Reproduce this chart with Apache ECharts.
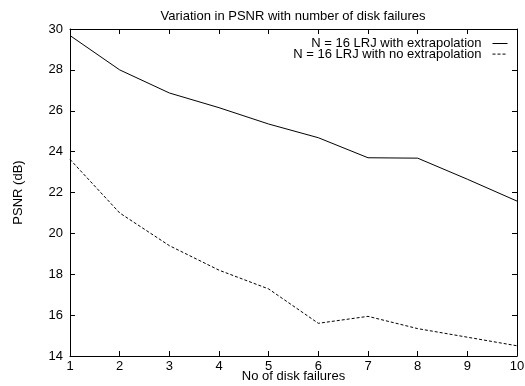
<!DOCTYPE html>
<html>
<head>
<meta charset="utf-8">
<script src="https://cdn.jsdelivr.net/npm/echarts@6/dist/echarts.min.js"></script>
<style>
html, body { margin: 0; padding: 0; background: #fff; }
#chart { width: 525px; height: 386px; }
</style>
</head>
<body>
<div id="chart"></div>
<script>
var failures = [1, 2, 3, 4, 5, 6, 7, 8, 9, 10];
var withExtrap = [29.68, 28.0, 26.87, 26.15, 25.35, 24.68, 23.7, 23.68, 22.65, 21.58];
var noExtrap = [23.62, 21.0, 19.4, 18.2, 17.28, 15.6, 15.94, 15.34, 14.92, 14.5];
var yTicks = [14, 16, 18, 20, 22, 24, 26, 28, 30];

var font = 'Liberation Sans, Arial, sans-serif';

function pairs(ys) {
	var out = [];
	for (var i = 0; i < failures.length; i++) {
		out.push([failures[i], ys[i]]);
	}
	return out;
}

var chart = echarts.init(document.getElementById('chart'));

var tickStyle = { show: true, inside: true, length: 5, lineStyle: { color: '#000', width: 1 } };
var axisLine = { show: true, lineStyle: { color: '#000', width: 1 } };

var option = {
	animation: false,
	backgroundColor: '#fff',
	textStyle: { fontFamily: font },
	title: {
		text: 'Variation in PSNR with number of disk failures',
		left: 293,
		textAlign: 'center',
		top: 10,
		padding: 0,
		textStyle: { fontSize: 13, fontWeight: 'normal', color: '#000', fontFamily: font }
	},
	legend: {
		right: 17,
		top: 37,
		padding: 0,
		orient: 'vertical',
		align: 'right',
		itemGap: -2.4,
		itemWidth: 15,
		itemHeight: 8,
		itemStyle: { opacity: 0 },
		lineStyle: { width: 1 },
		textStyle: { fontSize: 13, color: '#000', fontFamily: font, padding: [0, 6, 0, 0] },
		data: ['N = 16 LRJ with extrapolation', 'N = 16 LRJ with no extrapolation']
	},
	grid: { left: 70, right: 8, top: 29, bottom: 30, outerBoundsMode: 'none' },
	xAxis: [{
		type: 'value',
		min: 1,
		max: 10,
		interval: 1,
		name: 'No of disk failures',
		nameLocation: 'middle',
		nameGap: 14,
		nameMoveOverlap: false,
		nameTextStyle: { fontSize: 13, color: '#000', fontFamily: font },
		axisLine: axisLine,
		axisTick: tickStyle,
		splitLine: { show: false },
		axisLabel: { color: '#000', fontSize: 13, margin: 4, fontFamily: font }
	}, {
		type: 'value',
		position: 'top',
		min: 1,
		max: 10,
		interval: 1,
		axisLine: axisLine,
		axisTick: tickStyle,
		splitLine: { show: false },
		axisLabel: { show: false }
	}],
	yAxis: [{
		type: 'value',
		min: yTicks[0],
		max: yTicks[yTicks.length - 1],
		interval: 2,
		name: 'PSNR (dB)',
		nameLocation: 'middle',
		nameGap: 45,
		nameMoveOverlap: false,
		nameTextStyle: { fontSize: 13, color: '#000', fontFamily: font },
		axisLine: axisLine,
		axisTick: tickStyle,
		splitLine: { show: false },
		axisLabel: { color: '#000', fontSize: 13, margin: 7, fontFamily: font }
	}, {
		type: 'value',
		position: 'right',
		min: yTicks[0],
		max: yTicks[yTicks.length - 1],
		interval: 2,
		axisLine: axisLine,
		axisTick: tickStyle,
		splitLine: { show: false },
		axisLabel: { show: false }
	}],
	series: [{
		name: 'N = 16 LRJ with extrapolation',
		type: 'line',
		data: pairs(withExtrap),
		symbol: 'none',
		lineStyle: { color: '#000', width: 1 },
		itemStyle: { color: '#000' }
	}, {
		name: 'N = 16 LRJ with no extrapolation',
		type: 'line',
		data: pairs(noExtrap),
		symbol: 'none',
		lineStyle: { color: '#000', width: 1, type: [3, 2] },
		itemStyle: { color: '#000' }
	}]
};

chart.setOption(option);
</script>
</body>
</html>
